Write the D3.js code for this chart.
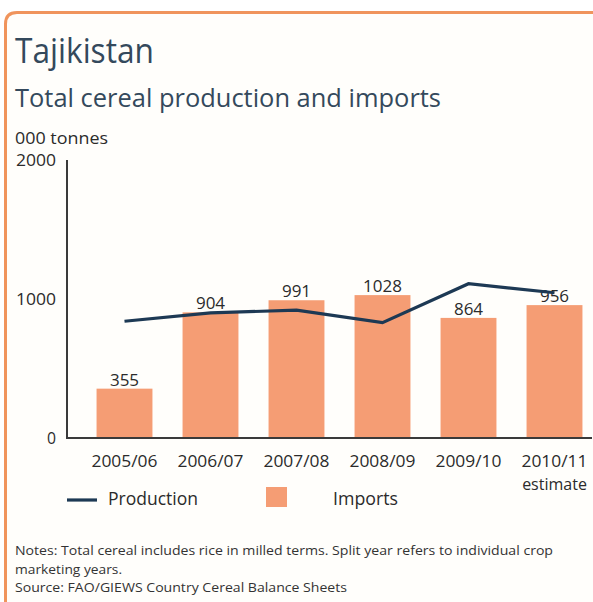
<!DOCTYPE html>
<html><head><meta charset="utf-8">
<script src="https://cdn.jsdelivr.net/npm/d3@7"></script>
<style>
html,body{margin:0;padding:0;background:#fff;}
svg{display:block;font-family:"Open Sans","Noto Sans",sans-serif;}
</style></head>
<body>
<svg id="chart" width="593" height="602"></svg>
<script>
const categories = ["2005/06","2006/07","2007/08","2008/09","2009/10","2010/11"];
const categorySub = ["","","","","","estimate"];
const imports = [355, 904, 991, 1028, 864, 956];
const production = [840, 900, 920, 830, 1110, 1045];
const yTicks = [0, 1000, 2000];
const legendLabels = ["Production", "Imports"];

const svg = d3.select("#chart");
const barColor = "#f59d74";
const lineColor = "#1d3954";
const textColor = "#2b2b2b";
const titleColor = "#34495c";
const FONT = "'Open Sans','Noto Sans',sans-serif";

// background and frame
svg.append("rect").attr("x",5).attr("y",12).attr("width",588).attr("height",590).attr("fill","#fffefb");
svg.append("path")
  .attr("d","M5.5,602 L5.5,24 Q5.5,12.5 17,12.5 L593,12.5")
  .attr("fill","none").attr("stroke","#f0945c").attr("stroke-width",3);

function fitText(sel, len){ return sel.attr("textLength",len).attr("lengthAdjust","spacingAndGlyphs"); }

// titles
fitText(svg.append("text").attr("x",15).attr("y",63).attr("fill",titleColor)
  .attr("font-size",35).text("Tajikistan"), 139);
fitText(svg.append("text").attr("x",15).attr("y",107).attr("fill",titleColor)
  .attr("font-size",26).text("Total cereal production and imports"), 426);
fitText(svg.append("text").attr("x",15).attr("y",144).attr("fill",textColor)
  .attr("font-size",15.5).text("000 tonnes"), 93);

const y = d3.scaleLinear().domain([0,2000]).range([438,160]);
const x = d3.scaleBand().domain(categories).range([81.5,597.5]).paddingInner(0.35).paddingOuter(0.175);

// bars
svg.append("g").selectAll("rect").data(imports).join("rect")
  .attr("x",(d,i)=>x(categories[i]))
  .attr("y",d=>y(d))
  .attr("width",x.bandwidth())
  .attr("height",d=>y(0)-y(d))
  .attr("fill",barColor);

// axes lines
svg.append("line").attr("x1",67).attr("x2",67).attr("y1",y(2000)).attr("y2",y(0)+1)
  .attr("stroke","#3a3a3a").attr("stroke-width",2);
svg.append("line").attr("x1",66).attr("x2",592).attr("y1",y(0)).attr("y2",y(0))
  .attr("stroke","#3a3a3a").attr("stroke-width",2);

// y axis labels
const yAxis = d3.axisLeft(y).tickValues(yTicks).tickSize(0).tickPadding(0).tickFormat(d3.format("d"));
const gy = svg.append("g").attr("transform","translate(56,0)").call(yAxis);
gy.select(".domain").remove();
gy.selectAll("text").attr("font-size",16).attr("fill",textColor)
  .attr("font-family",FONT).attr("dy","0.35em")
  .attr("textLength",d=>d===0?9:40).attr("lengthAdjust","spacingAndGlyphs");

// x axis labels
const xAxis = d3.axisBottom(x).tickSize(0).tickPadding(0);
const gx = svg.append("g").attr("transform","translate(0,456)").call(xAxis);
gx.select(".domain").remove();
gx.selectAll("text").attr("font-size",16).attr("fill",textColor)
  .attr("font-family",FONT).attr("dy","0.71em")
  .attr("textLength",66).attr("lengthAdjust","spacingAndGlyphs");
svg.append("g").selectAll("text").data(categorySub).join("text")
  .attr("x",(d,i)=>x(categories[i])+x.bandwidth()/2)
  .attr("y",490).attr("text-anchor","middle")
  .attr("font-size",16).attr("fill",textColor).text(d=>d);

// value labels
svg.append("g").selectAll("text").data(imports).join("text")
  .attr("x",(d,i)=>x(categories[i])+x.bandwidth()/2)
  .attr("y",d=>y(d)-3)
  .attr("text-anchor","middle").attr("font-size",17).attr("fill",textColor)
  .text(d=>d);

// production line
const line = d3.line().x((d,i)=>x(categories[i])+x.bandwidth()/2).y(d=>y(d));
svg.append("path").datum(production).attr("d",line)
  .attr("fill","none").attr("stroke",lineColor).attr("stroke-width",3.2)
  .attr("stroke-linejoin","miter");

// legend
svg.append("line").attr("x1",67).attr("x2",97).attr("y1",500).attr("y2",500)
  .attr("stroke",lineColor).attr("stroke-width",3.2);
fitText(svg.append("text").attr("x",108).attr("y",505).attr("font-size",17.5).attr("fill",textColor).text(legendLabels[0]), 90);
svg.append("rect").attr("x",266).attr("y",487).attr("width",21).attr("height",20).attr("fill",barColor);
fitText(svg.append("text").attr("x",333).attr("y",505).attr("font-size",17.5).attr("fill",textColor).text(legendLabels[1]), 65);

// notes
const notes = [
  "Notes: Total cereal includes rice in milled terms. Split year refers to individual crop",
  "marketing years.",
  "Source: FAO/GIEWS Country Cereal Balance Sheets"
];
const noteLens = [538, 107, 332];
svg.append("g").selectAll("text").data(notes).join("text")
  .attr("x",15).attr("y",(d,i)=>555+i*18.5)
  .attr("font-size",13.5).attr("fill","#333")
  .attr("textLength",(d,i)=>noteLens[i]).attr("lengthAdjust","spacingAndGlyphs")
  .text(d=>d);
</script>
</body></html>
